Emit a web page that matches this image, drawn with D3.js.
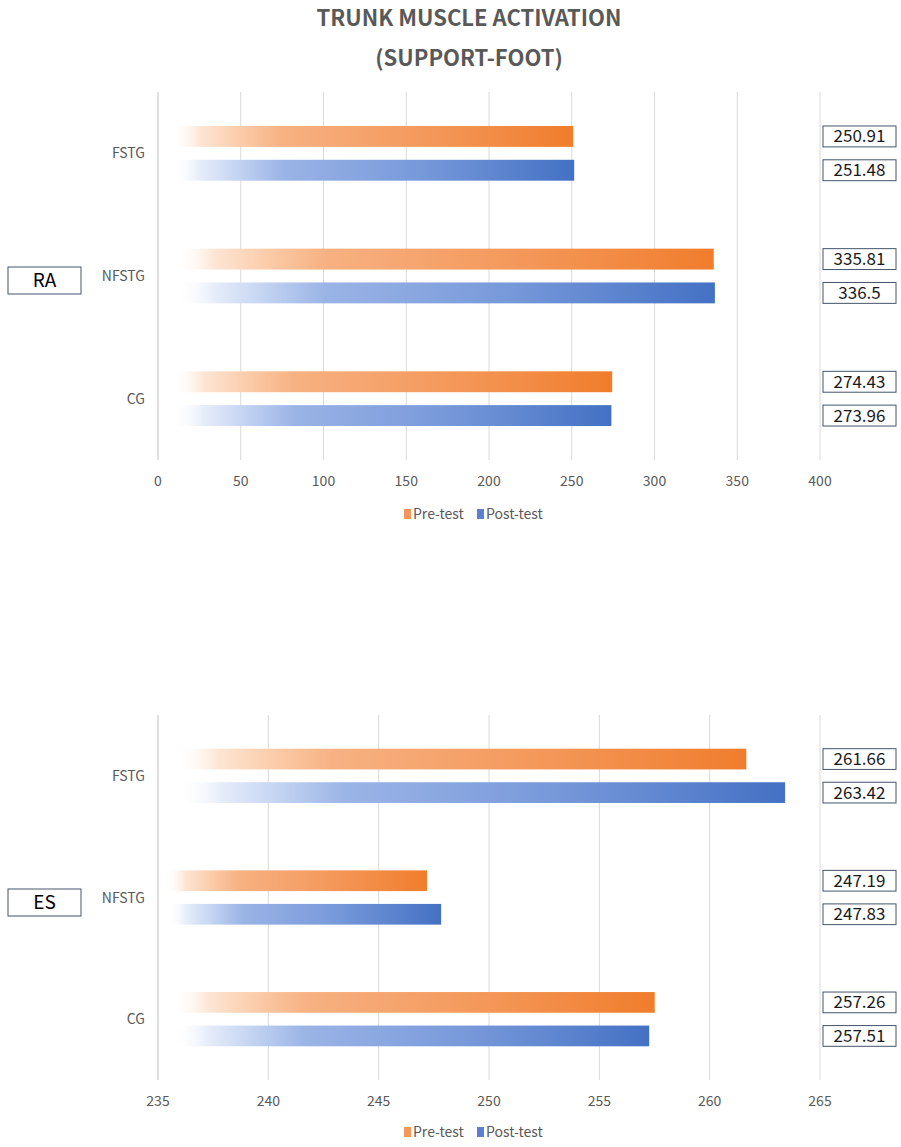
<!DOCTYPE html>
<html lang="en">
<head>
    <meta charset="UTF-8">
    <title>Trunk Muscle Activation (Support-Foot)</title>
    <script src="https://d3js.org/d3.v7.min.js"></script>
    <style>
        body { margin: 0; background: #fff; }
        svg { display: block; font-family: "Noto Sans CJK KR", "Noto Sans", sans-serif; }
        .grid line { stroke: #d9d9d9; stroke-width: 1; }
        .tick-label { fill: #595959; font-size: 14px; }
        .cat-label { fill: #595959; font-size: 14px; }
        .legend-text { fill: #595959; font-size: 14px; }
    </style>
</head>
<body>
    <svg id="chart"></svg>
    <script>
        // categories listed bottom -> top (Excel bar chart order)
        const categories = ["CG", "NFSTG", "FSTG"];
        const seriesNames = ["Pre-test", "Post-test"];

        // RA panel
        const raPre = [274.43, 335.81, 250.91];
        const raPost = [273.96, 336.5, 251.48];
        const raPreLabels = ["274.43", "335.81", "250.91"];
        const raPostLabels = ["273.96", "336.5", "251.48"];
        const raTicks = [0, 50, 100, 150, 200, 250, 300, 350, 400];

        // ES panel (bar lengths as drawn, labels as typed in the boxes)
        const esPre = [257.51, 247.19, 261.66];
        const esPost = [257.26, 247.83, 263.42];
        const esPreLabels = ["257.26", "247.19", "261.66"];
        const esPostLabels = ["257.51", "247.83", "263.42"];
        const esTicks = [235, 240, 245, 250, 255, 260, 265];

        const W = 901, H = 1147;
        const svg = d3.select("#chart").attr("width", W).attr("height", H);

        // gradients: transparent at the axis, full colour at the bar end
        const defs = svg.append("defs");
        function addGradient(id, stops) {
            const g = defs.append("linearGradient").attr("id", id)
                .attr("x1", "0%").attr("x2", "100%").attr("y1", "0%").attr("y2", "0%");
            stops.forEach(s => g.append("stop")
                .attr("offset", s[0]).attr("stop-color", s[1]).attr("stop-opacity", s[2]));
        }
        addGradient("gradPre", [
            [0, "#ffffff", 0], [0.03, "#ffffff", 0], [0.1, "#fde6d5", 1],
            [0.2, "#fbcba8", 1], [0.3, "#f7b182", 1], [0.65, "#f4985a", 1], [1, "#f07d2c", 1]
        ]);
        addGradient("gradPost", [
            [0, "#ffffff", 0], [0.03, "#ffffff", 0], [0.1, "#e6edfa", 1],
            [0.2, "#c0d1f1", 1], [0.3, "#9bb4e6", 1], [0.65, "#7597d9", 1], [1, "#4471c4", 1]
        ]);

        // title
        svg.append("text").attr("x", 469).attr("y", 26).attr("text-anchor", "middle")
            .attr("fill", "#595959").style("font-size", "22px").style("font-weight", "bold")
            .text("TRUNK MUSCLE ACTIVATION");
        svg.append("text").attr("x", 469).attr("y", 66).attr("text-anchor", "middle")
            .attr("fill", "#595959").style("font-size", "22px").style("font-weight", "bold")
            .text("(SUPPORT-FOOT)");

        function drawPanel(opt) {
            const g = svg.append("g");
            const x = d3.scaleLinear().domain(opt.domain).range([158, 820]);
            const y = d3.scaleBand().domain(categories.slice().reverse())
                .range([opt.top, opt.bottom]).paddingInner(0.554).paddingOuter(0.277);
            const ySub = d3.scaleBand().domain(seriesNames)
                .range([0, y.bandwidth()]).paddingInner(0.382);

            // gridlines
            g.append("g").attr("class", "grid").selectAll("line")
                .data(opt.ticks).enter().append("line")
                .attr("x1", d => x(d)).attr("x2", d => x(d))
                .attr("y1", opt.top).attr("y2", opt.bottom)
                .style("stroke", (d, i) => i === 0 ? "#bfbfbf" : "#d9d9d9");

            // tick labels
            g.selectAll(".tick-label").data(opt.ticks).enter().append("text")
                .attr("class", "tick-label")
                .attr("x", d => x(d)).attr("y", opt.bottom + 26)
                .attr("text-anchor", "middle").text(d => d);

            // category labels
            g.selectAll(".cat-label").data(categories).enter().append("text")
                .attr("class", "cat-label")
                .attr("x", 145).attr("y", d => y(d) + y.bandwidth() / 2 + 5)
                .attr("text-anchor", "end").text(d => d);

            const rows = [];
            categories.forEach((c, i) => {
                rows.push({ cat: c, s: "Pre-test", v: opt.pre[i], label: opt.preLabels[i], fill: "url(#gradPre)" });
                rows.push({ cat: c, s: "Post-test", v: opt.post[i], label: opt.postLabels[i], fill: "url(#gradPost)" });
            });

            // bars
            g.selectAll(".bar").data(rows).enter().append("rect")
                .attr("class", "bar")
                .attr("x", x(opt.domain[0]))
                .attr("y", d => y(d.cat) + ySub(d.s))
                .attr("width", d => x(d.v) - x(opt.domain[0]))
                .attr("height", ySub.bandwidth())
                .attr("fill", d => d.fill);

            // value boxes to the right of the plot
            const boxes = g.selectAll(".vbox").data(rows).enter().append("g")
                .attr("transform", d => `translate(823,${y(d.cat) + ySub(d.s)})`);
            boxes.append("rect").attr("width", 73).attr("height", ySub.bandwidth())
                .attr("fill", "#fff").attr("stroke", "#44546a").attr("stroke-width", 1);
            boxes.append("text").attr("x", 36.5).attr("y", ySub.bandwidth() / 2 + 6)
                .attr("text-anchor", "middle").attr("fill", "#1a1a1a")
                .style("font-size", "17px").text(d => d.label);

            // muscle label box on the left
            const lb = g.append("g").attr("transform", `translate(8,${opt.labelY})`);
            lb.append("rect").attr("width", 73).attr("height", 27)
                .attr("fill", "#fff").attr("stroke", "#44546a").attr("stroke-width", 1);
            lb.append("text").attr("x", 36.5).attr("y", 20).attr("text-anchor", "middle")
                .attr("fill", "#000").style("font-size", "19px").text(opt.name);

            // legend
            const leg = g.append("g").attr("transform", `translate(404,${opt.legendY})`);
            const items = [
                { name: seriesNames[0], color: "#f5965a", dx: 0 },
                { name: seriesNames[1], color: "#5b80cf", dx: 73 }
            ];
            items.forEach(it => {
                leg.append("rect").attr("x", it.dx).attr("y", -10).attr("width", 7).attr("height", 10)
                    .attr("fill", it.color);
                leg.append("text").attr("class", "legend-text").attr("x", it.dx + 9).attr("y", 0)
                    .text(it.name);
            });
        }

        drawPanel({
            name: "RA", domain: [0, 400], ticks: raTicks, top: 92, bottom: 460,
            pre: raPre, post: raPost, preLabels: raPreLabels, postLabels: raPostLabels,
            labelY: 267, legendY: 519
        });
        drawPanel({
            name: "ES", domain: [235, 265], ticks: esTicks, top: 715, bottom: 1080,
            pre: esPre, post: esPost, preLabels: esPreLabels, postLabels: esPostLabels,
            labelY: 889, legendY: 1137
        });
    </script>
</body>
</html>
